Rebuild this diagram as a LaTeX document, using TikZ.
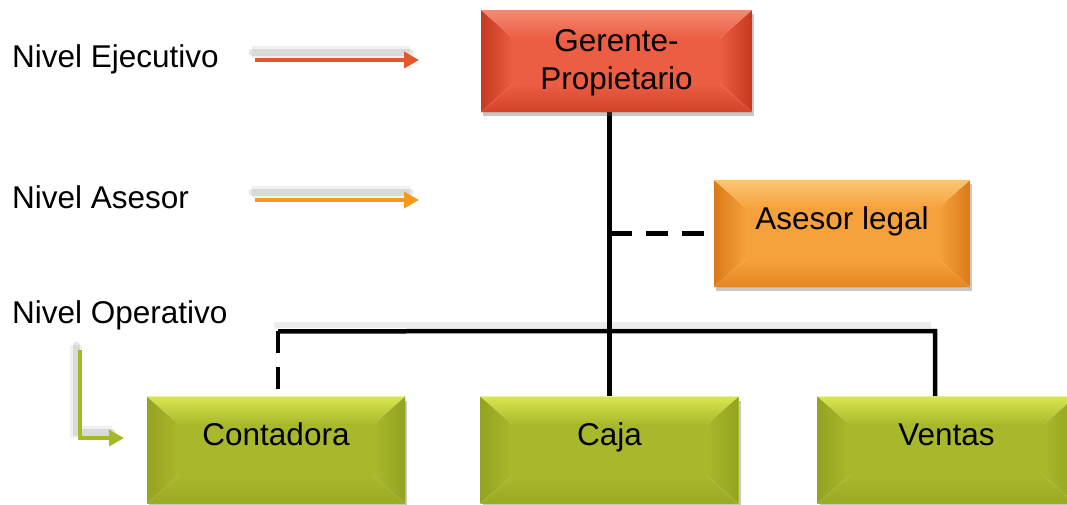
\documentclass[tikz,border=0pt]{standalone}
\usepackage{fontspec}
\setmainfont{Liberation Sans}
\usetikzlibrary{arrows.meta,shadows,calc}
\definecolor{redbase}{HTML}{EC5E43}
\definecolor{reddark}{HTML}{C6381F}
\definecolor{redlight}{HTML}{F48A72}
\definecolor{orbase}{HTML}{F6A23C}
\definecolor{ordark}{HTML}{DA7A18}
\definecolor{orlight}{HTML}{FCC474}
\definecolor{grbase}{HTML}{A9B82B}
\definecolor{grdark}{HTML}{93A322}
\definecolor{grlight}{HTML}{D8E650}
\definecolor{arrred}{HTML}{E2572B}
\definecolor{arror}{HTML}{F39A1E}
\definecolor{arrgr}{HTML}{A6B82A}
\tikzset{
  bevelbox/.style n args={3}{rectangle, inner sep=0pt, fill=#1,
    drop shadow={opacity=0.25, shadow xshift=2pt, shadow yshift=-4pt},
    path picture={
      \coordinate (bbnw) at (path picture bounding box.north west);
      \coordinate (bbne) at (path picture bounding box.north east);
      \coordinate (bbsw) at (path picture bounding box.south west);
      \coordinate (bbse) at (path picture bounding box.south east);
      \shade[left color=#2, right color=#1] (bbnw) -- ($(bbnw)+(32pt,-28pt)$) -- ($(bbsw)+(32pt,28pt)$) -- (bbsw) -- cycle;
      \shade[left color=#1, right color=#2] (bbne) -- ($(bbne)+(-32pt,-28pt)$) -- ($(bbse)+(-32pt,28pt)$) -- (bbse) -- cycle;
      \shade[top color=#3, bottom color=#1] (bbnw) -- (bbne) -- ($(bbne)+(-32pt,-28pt)$) -- ($(bbnw)+(32pt,-28pt)$) -- cycle;
      \shade[top color=#1, bottom color=#2!70!#1] (bbsw) -- (bbse) -- ($(bbse)+(-32pt,28pt)$) -- ($(bbsw)+(32pt,28pt)$) -- cycle;
      \draw[white, opacity=0.15, line width=0.6pt] (bbnw) -- ($(bbnw)+(32pt,-28pt)$) (bbne) -- ($(bbne)+(-32pt,-28pt)$)
        (bbsw) -- ($(bbsw)+(32pt,28pt)$) (bbse) -- ($(bbse)+(-32pt,28pt)$);
    }},
  redbox/.style={bevelbox={redbase}{reddark}{redlight}, minimum width=271pt, minimum height=102pt},
  orbox/.style={bevelbox={orbase}{ordark}{orlight}, minimum width=256pt, minimum height=107pt},
  grbox/.style={bevelbox={grbase}{grdark}{grlight}, minimum width=258pt, minimum height=107pt},
  txt/.style={inner sep=0pt, font=\fontsize{31.5}{38}\selectfont, anchor=base},
  lbl/.style={inner sep=0pt, font=\fontsize{31.5}{38}\selectfont, anchor=base west},
  conn/.style={line width=4.5pt, black},
  dconn/.style={line width=4.5pt, black, dash pattern=on 22pt off 14pt},
  lvlarrow/.style={line width=4pt, -{Triangle[length=15pt,width=16pt]}},
  arrshadow/.style={gray, opacity=0.2, line cap=round,
    preaction={draw, line width=12pt, gray, opacity=0.12},
    line width=7pt},
  lnshadow/.style={line width=6pt, gray, opacity=0.15},
}
\begin{document}
\begin{tikzpicture}[x=1pt,y=-1pt]
\useasboundingbox (0,0) rectangle (1067,504);
% connector shadows
\coordinate (busL) at (278,331);
\coordinate (busR) at (935,331);
\coordinate (venTop) at (935,396);
\draw[lnshadow] (274,325) -- (931,325);
% connectors
\node[redbox] (ger) at (616.5,61) {};
\node[orbox] (ase) at (842,233.5) {};
\node[grbox] (con) at (276,450) {};
\node[grbox] (caj) at (609.5,450) {};
\node[grbox] (ven) at (946.5,450) {};
\draw[conn] (caj.north) -- (caj.north |- ger.south);
\draw[dconn] (ase.west -| caj.north) -- (ase.west);
\draw[conn] (con.north -| busL) ++(0,-65) coordinate (cTop) -- (busR) -- (venTop);
\draw[dconn] (cTop) -- (con.north -| busL);
% redraw boxes on top of connector ends
\node[redbox] at (616.5,61) {};
\node[orbox] at (842,233.5) {};
\node[grbox] at (276,450) {};
\node[grbox] at (609.5,450) {};
\node[grbox] at (946.5,450) {};
% texts
\node[txt, align=center] (gtxt) at (616.5,89) {Gerente-\\Propietario};
\node[txt] at (842,229) {Asesor legal};
\node[txt] at (276,445) {Contadora};
\node[txt] at (609.5,445) {Caja};
\node[txt] at (946.5,445) {Ventas};
% level labels
\node[lbl] (l1) at (12,67) {Nivel Ejecutivo};
\node[lbl] (l2) at (12,208) {Nivel Asesor};
\node[lbl] (l3) at (12,323) {Nivel Operativo};
% level arrows
\coordinate (a1s) at (255,60); \coordinate (a1e) at (419,60);
\coordinate (a2s) at (255,200); \coordinate (a2e) at (419,200);
\coordinate (a3s) at (80,350); \coordinate (a3c) at (80,438); \coordinate (a3e) at (124,438);
\draw[arrshadow] (252,52) -- (410,52);
\draw[arrshadow] (252,192) -- (410,192);
\draw[arrshadow] (76,345) -- (76,432) -- (112,432);
\draw[lvlarrow, arrred] (a1s) -- (a1e);
\draw[lvlarrow, arror] (a2s) -- (a2e);
\draw[lvlarrow, arrgr] (a3s) -- (a3c) -- (a3e);
\end{tikzpicture}
\end{document}
